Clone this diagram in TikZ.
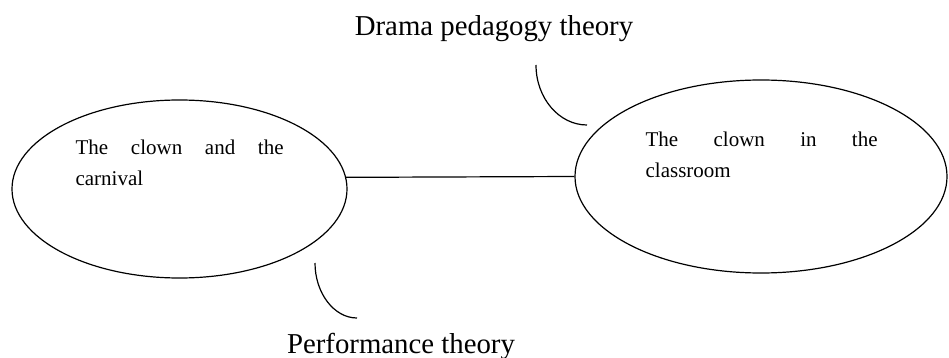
\documentclass[tikz,border=0pt]{standalone}
\usepackage{fontspec}
\setmainfont{Liberation Serif}
\usepackage{tikz}
\usetikzlibrary{shapes.geometric,positioning}
\hyphenpenalty=10000
\tolerance=10000

\begin{document}
\begin{tikzpicture}[x=1pt,y=-1pt,line width=1.2pt,
    bubble/.style={draw,ellipse,inner sep=0pt},
    intext/.style={anchor=base west,inner sep=0pt,align=justify,
      font=\fontsize{21}{31}\selectfont},
    theory/.style={anchor=base,inner sep=0pt,font=\fontsize{28.8}{34}\selectfont}]
      \useasboundingbox (0,0) rectangle (949,358);

      \node[bubble,minimum width=335pt,minimum height=178pt](e1) at (179.5,189){};
      \node[bubble,minimum width=372pt,minimum height=193pt](e2) at (761,176.5){};
      \node[intext,text width=208pt](t1) at (75,155){The clown and the\linebreak carnival};
      \node[intext,text width=232pt](t2) at (645,147){The clown in the\linebreak classroom};

      \node[theory](dp) at (494,36){Drama pedagogy theory};
      \node[theory](pt) at (401,353){Performance theory};

      \coordinate (dp1) at (536,65);
      \coordinate (dp2) at (587,125);
      \coordinate (pt1) at (315,263);
      \coordinate (pt2) at (357,318);

      \draw[] (e1.4.5) -- (e2.west);
      \draw[] (dp1) .. controls (536,98) and (559,125) .. (dp2);
      \draw[] (pt1) .. controls (315,293) and (334,318) .. (pt2);

    \end{tikzpicture}
\end{document}
